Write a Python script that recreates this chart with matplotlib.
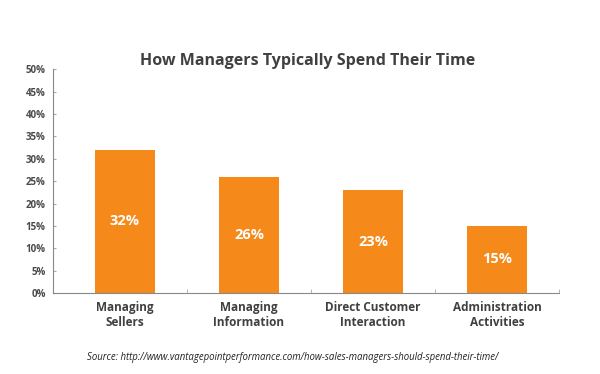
import matplotlib.pyplot as plt
import numpy as np

categories = ['Managing\nSellers', 'Managing\nInformation', 'Direct Customer\nInteraction', 'Administration\nActivities']
values = [32, 26, 23, 15]
yticks = [0, 5, 10, 15, 20, 25, 30, 35, 40, 45, 50]

orange = '#F58A1A'
grey = '#404040'

plt.rcParams['font.family'] = ['Open Sans', 'DejaVu Sans']

fig = plt.figure(figsize=(6, 3.74), dpi=100)
ax = fig.add_axes([0.0878, 0.2166, 0.8439, 0.5981])

x = np.arange(len(values))
ax.bar(x, values, width=0.48, color=orange)

for xi, v in zip(x, values):
    ax.text(xi, v / 2, f'{v}%', ha='center', va='center', color='white',
            fontsize=10.5, fontweight='bold')

ax.set_xlim(-0.583, 3.5)
ax.set_ylim(0, 50)
ax.set_yticks(yticks)
ax.set_yticklabels([f'{t}%' for t in yticks], fontsize=7, fontweight='bold', color='#4a4a4a')

ax.set_xticks(x)
ax.set_xticklabels(categories, fontsize=8.5, fontweight='bold', color=grey, linespacing=1.15)
ax.tick_params(axis='x', length=0, pad=6)
ax.set_xticks([0.5, 1.5, 2.5, 3.5], minor=True)
ax.tick_params(axis='x', which='minor', direction='in', length=3, color='#aaaaaa')
ax.tick_params(axis='y', direction='in', length=2, color='#aaaaaa', pad=5)

for s in ['top', 'right']:
    ax.spines[s].set_visible(False)
ax.spines['left'].set_color('#888888')
ax.spines['bottom'].set_color('#888888')

fig.text(0.512, 0.838, 'How Managers Typically Spend Their Time', ha='center', va='center',
         fontsize=11.5, fontweight='bold', color=grey)
fig.text(0.488, 0.045, 'Source: http://www.vantagepointperformance.com/how-sales-managers-should-spend-their-time/',
         ha='center', va='center', fontsize=6.9, style='italic', color='#222222')

fig.savefig('out.png', dpi=100, facecolor='white')
